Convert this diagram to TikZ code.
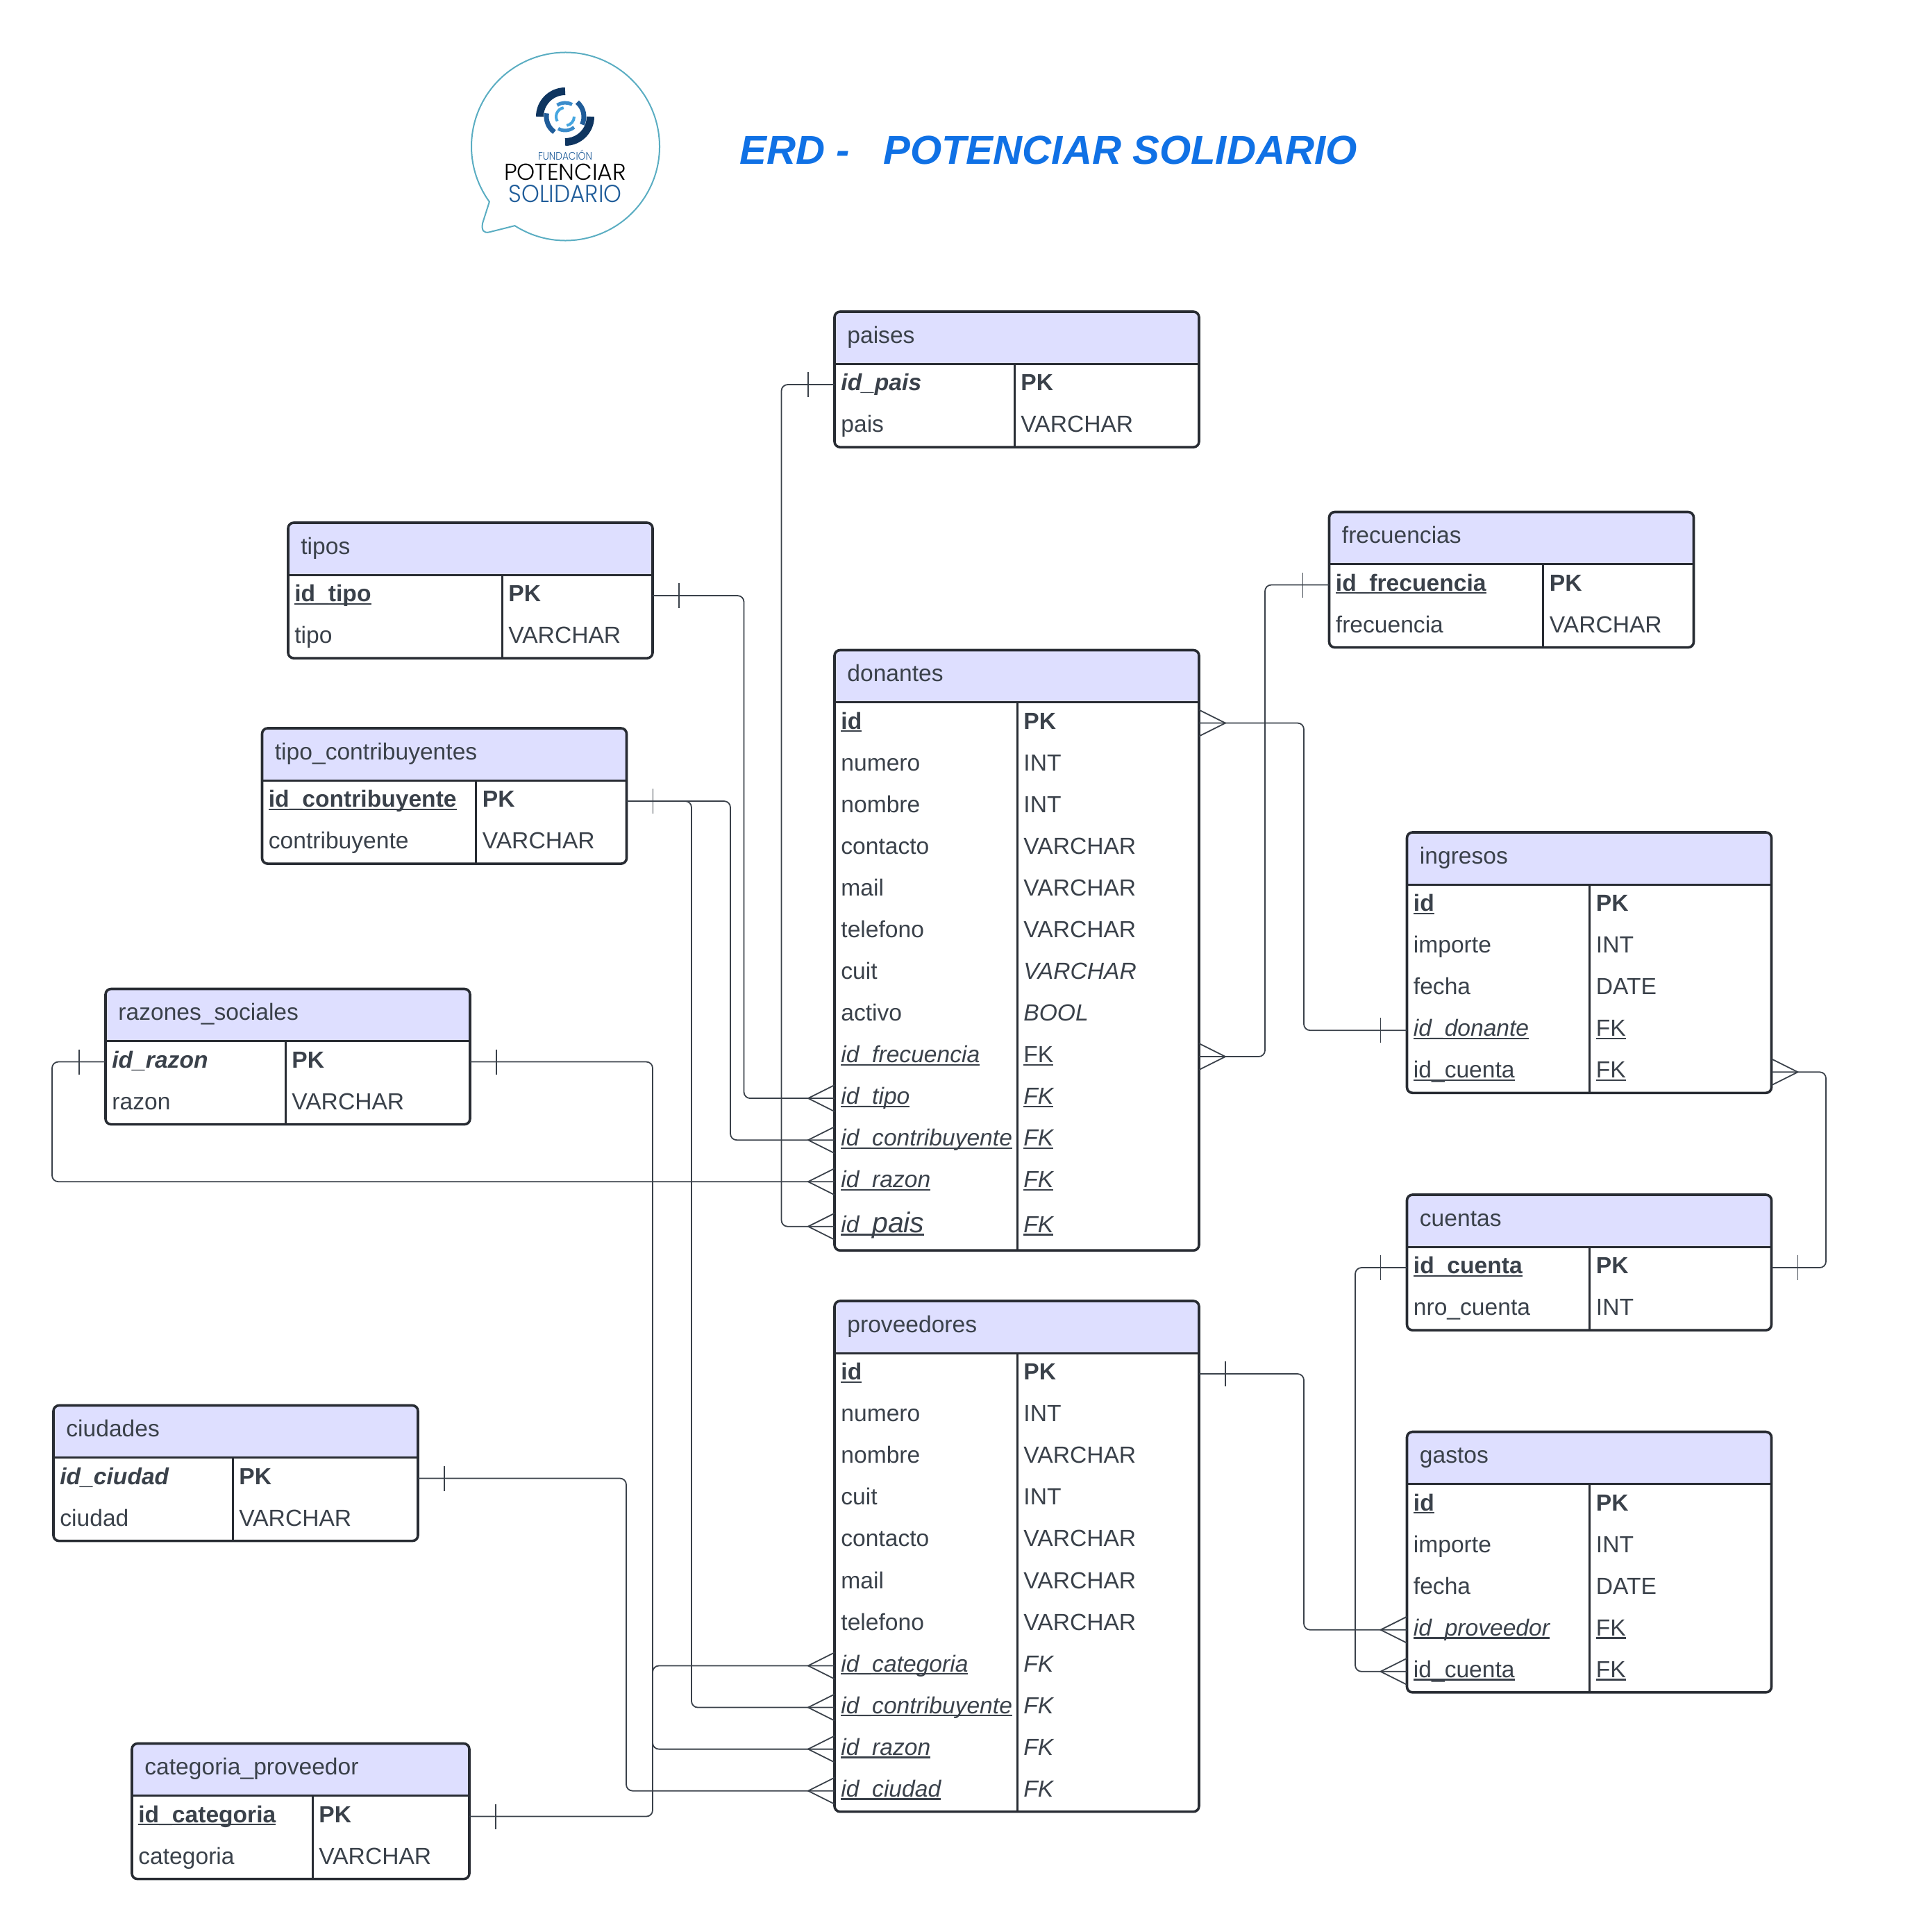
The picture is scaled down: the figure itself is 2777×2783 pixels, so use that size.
\documentclass[tikz,border=0pt]{standalone}
\usepackage{fontspec}
\usepackage{graphicx}
\setmainfont{Liberation Sans}
\newfontfamily\logofont{Poppins Light}
\usetikzlibrary{positioning}
\usetikzlibrary{backgrounds}
\definecolor{erdline}{HTML}{282C33}
\definecolor{erdtext}{HTML}{3A414A}
\definecolor{erdfill}{HTML}{DEDFFF}
\definecolor{titleblue}{HTML}{1071E5}
\definecolor{bubble}{HTML}{5AADC2}
\definecolor{logonavy}{HTML}{0E3560}
\definecolor{logomid}{HTML}{1F5C99}
\definecolor{logolight}{HTML}{3B8CCB}
\definecolor{logopale}{HTML}{45A6E0}
\tikzset{%
  entityhead/.style = {anchor=north west,inner xsep=9.2pt,inner ysep=0pt,outer sep=0pt,
        minimum height=37.5pt,text height=14.5pt,text depth=6.8pt,
        text=erdtext,font=\fontsize{16.8pt}{20pt}\selectfont},
  erdcell/.style = {inner xsep=4.7pt,inner ysep=0pt,outer sep=0pt,minimum height=30.03pt,
        text height=15.5pt,text depth=6.8pt,
        text=erdtext,font=\fontsize{16.8pt}{20pt}\selectfont},
  entityframe/.style = {draw=erdline,line width=1.8pt,rounded corners=4pt},
  entityrule/.style = {draw=erdline,line width=1.5pt},
  link/.style = {draw=erdtext,line width=0.9pt,rounded corners=4.5pt},
  endmark/.style = {draw=erdtext,line width=0.9pt}
}
\newsavebox{\ulbox}
\newcommand{\erdul}[1]{\sbox{\ulbox}{#1}\rlap{\rule[-2.1pt]{\wd\ulbox}{1.2pt}}\usebox{\ulbox}}
\newcommand{\pkname}[1]{{\bfseries\erdul{#1}}}
\newcommand{\pkbold}[1]{{\bfseries\itshape #1}}
\newcommand{\fkname}[1]{{\itshape\erdul{#1}}}
\newcommand{\entity}[6]{%
  \def\namewd{#5}%
  \def\typewd{\dimexpr#4-#5\relax}%
  \def\erdprev{#1}%
  \node[entityhead,minimum width=#4] (#1) at (#2,#3) {\makebox[\dimexpr#4-18.4pt\relax][l]{#6}};
  \begin{pgfonlayer}{background}
  \fill[erdfill] (#1.south west) [rounded corners=4pt] -- (#1.north west) -- (#1.north east)
    [sharp corners] -- (#1.south east) -- cycle;
  \end{pgfonlayer}
}
\newcommand{\erdrow}[4][]{%
  \node[erdcell,#1,below=0pt of \erdprev.south west,anchor=north west] (#2)
    {\makebox[\dimexpr\namewd-9.4pt\relax][l]{#3}};
  \node[erdcell,#1,right=0pt of #2] (#2-type)
    {\makebox[\dimexpr\typewd-9.4pt\relax][l]{#4}};
  \def\erdprev{#2}%
}
\newcommand{\entityend}[1]{%
  \draw[entityframe] (#1.north west) rectangle (\erdprev-type.south east);
  \draw[entityrule] (#1.south west) -- (#1.south east);
  \draw[entityrule] (\erdprev.south east) -- (\erdprev.south east |- #1.south);
}
\newcommand{\erdlink}[3]{\draw[link] (#1) -- (#1 -| #2) -- (#3 -| #2) -- (#3);}
\newcommand{\onemark}[2]{\draw[endmark,shift={(#1)}] (#2,-18) -- (#2,18);}
\newcommand{\crowfoot}[2]{\draw[endmark,shift={(#1)}] (0,-19) -- (#2,0) -- (0,19);}

\begin{document}
\begin{tikzpicture}[x=0.5pt,y=-0.5pt]
   \useasboundingbox (0,0) rectangle (2777,2783);

   \begin{scope}[shift={(814.5,211)},y=0.5pt]
     \draw[bubble,line width=1pt] (237.4:135.5) arc (237.4:576:135.5)
       -- (-119.5,-110.7) .. controls (-121,-120.7) and (-118,-125.5) .. (-109.5,-123.3) -- cycle;
   \end{scope}
   \begin{scope}[shift={(814,168)},y=0.5pt]
     \draw[logonavy,line width=5.5pt] (90:36.5) arc (90:180:36.5);
     \draw[logonavy,line width=5.5pt] (0:36.5) arc (0:-90:36.5);
     \draw[logomid,line width=3.5pt] (50:27) arc (50:-25:27);
     \draw[logomid,line width=3.5pt] (170:27) arc (170:235:27);
     \draw[logolight,line width=2.5pt] (125:20) arc (125:60:20);
     \draw[logolight,line width=2.5pt] (-50:20) arc (-50:-120:20);
     \draw[logopale,line width=2pt] (100:13) arc (100:210:13);
     \draw[logopale,line width=2pt] (0:13) arc (0:-80:13);
   \end{scope}
   \node[inner sep=0pt,text=logomid] (logo-fundacion) at (814,223.5)
     {\resizebox{39pt}{7.2pt}{\logofont FUNDACIÓN}};
   \node[inner sep=0pt] (logo-potenciar) at (814,248)
     {\resizebox{88pt}{11.7pt}{\logofont POTENCIAR}};
   \node[inner sep=0pt,text=logomid] (logo-solidario) at (814,279)
     {\resizebox{81.5pt}{12.5pt}{\logofont SOLIDARIO}};
   \node[inner sep=0pt,anchor=west,text=titleblue,font=\fontsize{29.1pt}{34pt}\selectfont\bfseries\itshape]
     (title) at (1065,216.5) {ERD -~~~POTENCIAR SOLIDARIO};

   \entity{paises}{1202}{449}{262.5pt}{129.5pt}{paises}
   \erdrow{paises-id}{\pkbold{id\_pais}}{\textbf{PK}}
   \erdrow{paises-pais}{pais}{VARCHAR}
   \entityend{paises}

   \entity{tipos}{415}{753}{262.5pt}{154pt}{tipos}
   \erdrow{tipos-id}{\pkname{id\_tipo}}{\textbf{PK}}
   \erdrow{tipos-tipo}{tipo}{VARCHAR}
   \entityend{tipos}

   \entity{contrib}{377.5}{1049}{262.5pt}{154pt}{tipo\_contribuyentes}
   \erdrow{contrib-id}{\pkname{id\_contribuyente}}{\textbf{PK}}
   \erdrow{contrib-nombre}{contribuyente}{VARCHAR}
   \entityend{contrib}

   \entity{razones}{152}{1424.5}{262.5pt}{129.5pt}{razones\_sociales}
   \erdrow{razones-id}{\pkbold{id\_razon}}{\textbf{PK}}
   \erdrow{razones-razon}{razon}{VARCHAR}
   \entityend{razones}

   \entity{frecuencias}{1914.5}{737.5}{262.5pt}{154pt}{frecuencias}
   \erdrow{frecuencias-id}{\pkname{id\_frecuencia}}{\textbf{PK}}
   \erdrow{frecuencias-frec}{frecuencia}{VARCHAR}
   \entityend{frecuencias}

   \entity{donantes}{1202}{936.5}{262.5pt}{131.5pt}{donantes}
   \erdrow{donantes-id}{\pkname{id}}{\textbf{PK}}
   \erdrow{donantes-numero}{numero}{INT}
   \erdrow{donantes-nombre}{nombre}{INT}
   \erdrow{donantes-contacto}{contacto}{VARCHAR}
   \erdrow{donantes-mail}{mail}{VARCHAR}
   \erdrow{donantes-telefono}{telefono}{VARCHAR}
   \erdrow{donantes-cuit}{cuit}{\textit{VARCHAR}}
   \erdrow{donantes-activo}{activo}{\textit{BOOL}}
   \erdrow{donantes-frec}{\fkname{id\_frecuencia}}{\erdul{FK}}
   \erdrow{donantes-tipo}{\fkname{id\_tipo}}{\fkname{FK}}
   \erdrow{donantes-contrib}{\fkname{id\_contribuyente}}{\fkname{FK}}
   \erdrow{donantes-razon}{\fkname{id\_razon}}{\fkname{FK}}
   \erdrow[minimum height=34.5pt]{donantes-pais}{\fkname{id\_\fontsize{20.5pt}{24pt}\selectfont pais}}{\fkname{FK}}
   \entityend{donantes}

   \entity{ingresos}{2026.5}{1199}{262.5pt}{131.5pt}{ingresos}
   \erdrow{ingresos-id}{\pkname{id}}{\textbf{PK}}
   \erdrow{ingresos-importe}{importe}{INT}
   \erdrow{ingresos-fecha}{fecha}{DATE}
   \erdrow{ingresos-donante}{\fkname{id\_donante}}{\erdul{FK}}
   \erdrow{ingresos-cuenta}{\erdul{id\_cuenta}}{\erdul{FK}}
   \entityend{ingresos}

   \entity{cuentas}{2026.5}{1721}{262.5pt}{131.5pt}{cuentas}
   \erdrow{cuentas-id}{\pkname{id\_cuenta}}{\textbf{PK}}
   \erdrow{cuentas-nro}{nro\_cuenta}{INT}
   \entityend{cuentas}

   \entity{proveedores}{1202}{1874}{262.5pt}{131.5pt}{proveedores}
   \erdrow{proveedores-id}{\pkname{id}}{\textbf{PK}}
   \erdrow{proveedores-numero}{numero}{INT}
   \erdrow{proveedores-nombre}{nombre}{VARCHAR}
   \erdrow{proveedores-cuit}{cuit}{INT}
   \erdrow{proveedores-contacto}{contacto}{VARCHAR}
   \erdrow{proveedores-mail}{mail}{VARCHAR}
   \erdrow{proveedores-telefono}{telefono}{VARCHAR}
   \erdrow{proveedores-categoria}{\fkname{id\_categoria}}{\textit{FK}}
   \erdrow{proveedores-contrib}{\fkname{id\_contribuyente}}{\textit{FK}}
   \erdrow{proveedores-razon}{\fkname{id\_razon}}{\textit{FK}}
   \erdrow{proveedores-ciudad}{\fkname{id\_ciudad}}{\textit{FK}}
   \entityend{proveedores}

   \entity{gastos}{2026.5}{2062.5}{262.5pt}{131.5pt}{gastos}
   \erdrow{gastos-id}{\pkname{id}}{\textbf{PK}}
   \erdrow{gastos-importe}{importe}{INT}
   \erdrow{gastos-fecha}{fecha}{DATE}
   \erdrow{gastos-proveedor}{\fkname{id\_proveedor}}{\erdul{FK}}
   \erdrow{gastos-cuenta}{\erdul{id\_cuenta}}{\erdul{FK}}
   \entityend{gastos}

   \entity{ciudades}{77}{2024.5}{262.5pt}{129pt}{ciudades}
   \erdrow{ciudades-id}{\pkbold{id\_ciudad}}{\textbf{PK}}
   \erdrow{ciudades-ciudad}{ciudad}{VARCHAR}
   \entityend{ciudades}

   \entity{categoria}{190}{2511.5}{243pt}{130pt}{categoria\_proveedor}
   \erdrow{categoria-id}{\pkname{id\_categoria}}{\textbf{PK}}
   \erdrow{categoria-categoria}{categoria}{VARCHAR}
   \entityend{categoria}

   \coordinate (lane-pais) at (1125.5,0);
   \coordinate (lane-tipo) at (1071.5,0);
   \coordinate (lane-contrib) at (1052,0);
   \coordinate (lane-contrib-prov) at (996,0);
   \coordinate (lane-razon) at (75,0);
   \coordinate (lane-razon-prov) at (940,0);
   \coordinate (lane-frec) at (1822,0);
   \coordinate (lane-donante) at (1878,0);
   \coordinate (lane-cuenta) at (2630,0);
   \coordinate (lane-gasto) at (1952,0);
   \coordinate (lane-prov) at (1878,0);
   \coordinate (lane-ciudad) at (902,0);

   \erdlink{paises-id.west}{lane-pais}{donantes-pais.west}
   \onemark{paises-id.west}{-38}
   \crowfoot{donantes-pais.west}{-38}
   \erdlink{tipos-id-type.east}{lane-tipo}{donantes-tipo.west}
   \onemark{tipos-id-type.east}{38}
   \crowfoot{donantes-tipo.west}{-38}
   \erdlink{contrib-id-type.east}{lane-contrib}{donantes-contrib.west}
   \erdlink{contrib-id-type.east}{lane-contrib-prov}{proveedores-contrib.west}
   \onemark{contrib-id-type.east}{38}
   \crowfoot{donantes-contrib.west}{-38}
   \crowfoot{proveedores-contrib.west}{-38}
   \erdlink{razones-id.west}{lane-razon}{donantes-razon.west}
   \onemark{razones-id.west}{-38}
   \crowfoot{donantes-razon.west}{-38}
   \erdlink{razones-id-type.east}{lane-razon-prov}{proveedores-razon.west}
   \onemark{razones-id-type.east}{38}
   \crowfoot{proveedores-razon.west}{-38}
   \erdlink{frecuencias-id.west}{lane-frec}{donantes-frec-type.east}
   \onemark{frecuencias-id.west}{-38}
   \crowfoot{donantes-frec-type.east}{38}
   \erdlink{donantes-id-type.east}{lane-donante}{ingresos-donante.west}
   \crowfoot{donantes-id-type.east}{38}
   \onemark{ingresos-donante.west}{-38}
   \erdlink{ingresos-cuenta-type.east}{lane-cuenta}{cuentas-id-type.east}
   \crowfoot{ingresos-cuenta-type.east}{38}
   \onemark{cuentas-id-type.east}{38}
   \erdlink{cuentas-id.west}{lane-gasto}{gastos-cuenta.west}
   \onemark{cuentas-id.west}{-38}
   \crowfoot{gastos-cuenta.west}{-38}
   \erdlink{proveedores-id-type.east}{lane-prov}{gastos-proveedor.west}
   \onemark{proveedores-id-type.east}{38}
   \crowfoot{gastos-proveedor.west}{-38}
   \erdlink{ciudades-id-type.east}{lane-ciudad}{proveedores-ciudad.west}
   \onemark{ciudades-id-type.east}{38}
   \crowfoot{proveedores-ciudad.west}{-38}
   \erdlink{categoria-id-type.east}{lane-razon-prov}{proveedores-categoria.west}
   \onemark{categoria-id-type.east}{38}
   \crowfoot{proveedores-categoria.west}{-38}
\end{tikzpicture}
\end{document}
